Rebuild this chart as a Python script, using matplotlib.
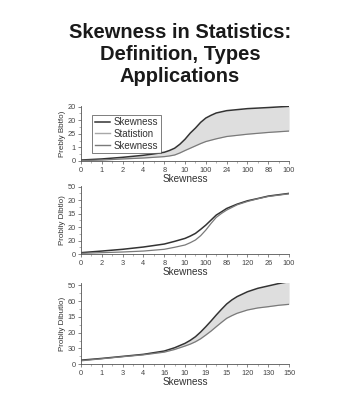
import matplotlib
matplotlib.use("Agg")
import matplotlib.pyplot as plt
from matplotlib.ticker import MultipleLocator

plt.rcParams['font.family'] = ['Liberation Sans', 'DejaVu Sans']

title = "Skewness in Statistics:\nDefinition, Types\nApplications"

# Panel 1
p1_x = [0, 1, 2, 3, 3.5, 4, 4.25, 4.5, 4.75, 5, 5.25, 5.5, 5.75, 6, 6.25, 6.5, 7, 8, 9, 10]
p1_dark = [0.07, 0.15, 0.27, 0.42, 0.52, 0.64, 0.77, 0.94, 1.23, 1.6, 2.05, 2.42, 2.84, 3.16,
           3.36, 3.53, 3.7, 3.85, 3.93, 4.02]
p1_gray = [0.03, 0.07, 0.15, 0.22, 0.27, 0.32, 0.37, 0.44, 0.59, 0.77, 0.94, 1.11, 1.28, 1.43,
           1.53, 1.63, 1.8, 1.97, 2.1, 2.2]
p1_xticklabels = ['0', '1', '2', '4', '8', '10', '100', '24', '100', '86', '100']
p1_yticklabels = ['0', '1', '25', '20', '20']
p1_ylabel = "Prebly Bbtfo)"
legend_labels = ['Skewness', 'Statistion', 'Skewness']

# Panel 2
p2_x = [0, 1, 2, 3, 4, 4.5, 5, 5.25, 5.5, 5.75, 6, 6.25, 6.5, 6.75, 7, 7.5, 8, 8.5, 9, 9.5, 10]
p2_dark = [0.1, 0.22, 0.35, 0.52, 0.74, 0.94, 1.16, 1.33, 1.53, 1.83, 2.15, 2.52, 2.89, 3.13,
           3.38, 3.7, 3.95, 4.12, 4.3, 4.4, 4.5]
p2_gray = [0.05, 0.1, 0.15, 0.22, 0.35, 0.5, 0.67, 0.84, 1.04, 1.36, 1.78, 2.27, 2.72, 3.01,
           3.26, 3.65, 3.9, 4.1, 4.27, 4.37, 4.47]
p2_xticklabels = ['0', '2', '3', '4', '8', '10', '100', '86', '120', '26', '100']
p2_yticklabels = ['0', '20', '20', '15', '20', '50']
p2_ylabel = "Probliy Dlbtlo)"

# Panel 3
p3_x = [0, 1, 2, 3, 4, 4.5, 5, 5.25, 5.5, 5.75, 6, 6.25, 6.5, 6.75, 7, 7.25, 7.5, 8, 8.5, 9, 9.5, 10]
p3_dark = [0.25, 0.36, 0.49, 0.62, 0.83, 1.04, 1.32, 1.51, 1.74, 2.04, 2.38, 2.74, 3.12, 3.48,
           3.82, 4.08, 4.29, 4.6, 4.82, 4.97, 5.12, 5.24]
p3_gray = [0.21, 0.34, 0.47, 0.59, 0.76, 0.93, 1.15, 1.27, 1.42, 1.61, 1.85, 2.1, 2.38, 2.65,
           2.91, 3.08, 3.23, 3.44, 3.57, 3.65, 3.74, 3.8]
p3_xticklabels = ['0', '1', '3', '4', '16', '10', '19', '15', '120', '130', '150']
p3_yticklabels = ['0', '30', '20', '15', '60', '50']
p3_ylabel = "Probliy Dibutlo)"

xlabel = "Skewness"

DARK = '#333333'
GRAY = '#7a7a7a'
LIGHT = '#a8a8a8'
FILL = '#dedede'
TICKC = '#444444'

fig = plt.figure(figsize=(3.6, 4.05), dpi=100)
fig.text(0.5, 0.942, title, ha='center', va='top', fontsize=14.5,
         fontweight='bold', color='#1a1a1a', linespacing=1.17)

def style(ax, xlabels, ylabels, ylabel, ytop):
    ax.set_xlim(0, 10)
    ax.set_ylim(0, ytop)
    ax.set_xticks(range(len(xlabels)))
    ax.set_xticklabels(xlabels)
    ax.set_yticks(range(len(ylabels)))
    ax.set_yticklabels(ylabels)
    ax.xaxis.set_minor_locator(MultipleLocator(0.5))
    ax.yaxis.set_minor_locator(MultipleLocator(0.5))
    for s in ['top', 'right']:
        ax.spines[s].set_visible(False)
    for s in ['left', 'bottom']:
        ax.spines[s].set_linewidth(0.6)
        ax.spines[s].set_color('#555555')
    ax.tick_params(axis='both', which='major', labelsize=5.3, length=2.5,
                   width=0.5, colors='#555555', labelcolor=TICKC, pad=1.5)
    ax.tick_params(axis='both', which='minor', length=1.5, width=0.4, colors='#777777')
    ax.set_xlabel(xlabel, fontsize=7.2, color='#333333', labelpad=0.5)
    ax.set_ylabel(ylabel, fontsize=5.8, color='#333333', labelpad=1)

# Panel 1
ax1 = fig.add_axes([0.225, 0.6025, 0.578, 0.136])
ax1.fill_between(p1_x, p1_gray, p1_dark, color=FILL, lw=0)
ax1.plot(p1_x, p1_dark, color=DARK, lw=1.1)
ax1.plot(p1_x, p1_gray, color=GRAY, lw=0.9)
h1, = ax1.plot([], [], color=DARK, lw=1.1)
h2, = ax1.plot([], [], color=LIGHT, lw=1.0)
h3, = ax1.plot([], [], color=GRAY, lw=1.0)
style(ax1, p1_xticklabels, p1_yticklabels, p1_ylabel, 4.05)
leg = ax1.legend([h1, h2, h3], legend_labels, loc='upper left',
                 bbox_to_anchor=(0.055, 0.84), fontsize=7.0, frameon=True,
                 fancybox=False, handlelength=1.6, handletextpad=0.35,
                 borderpad=0.25, labelspacing=0.18, borderaxespad=0)
leg.get_frame().set_edgecolor('#444444')
leg.get_frame().set_linewidth(0.6)
for t in leg.get_texts():
    t.set_color('#333333')

# Panel 2
ax2 = fig.add_axes([0.225, 0.3728, 0.578, 0.168])
ax2.plot(p2_x, p2_dark, color=DARK, lw=1.1)
ax2.plot(p2_x, p2_gray, color=GRAY, lw=0.9)
style(ax2, p2_xticklabels, p2_yticklabels, p2_ylabel, 5.05)

# Panel 3
ax3 = fig.add_axes([0.225, 0.101, 0.578, 0.2])
ax3.fill_between(p3_x, p3_gray, p3_dark, color=FILL, lw=0)
ax3.plot(p3_x, p3_dark, color=DARK, lw=1.1)
ax3.plot(p3_x, p3_gray, color=GRAY, lw=0.9)
style(ax3, p3_xticklabels, p3_yticklabels, p3_ylabel, 5.15)

fig.savefig('out.png', dpi=100, facecolor='white')
